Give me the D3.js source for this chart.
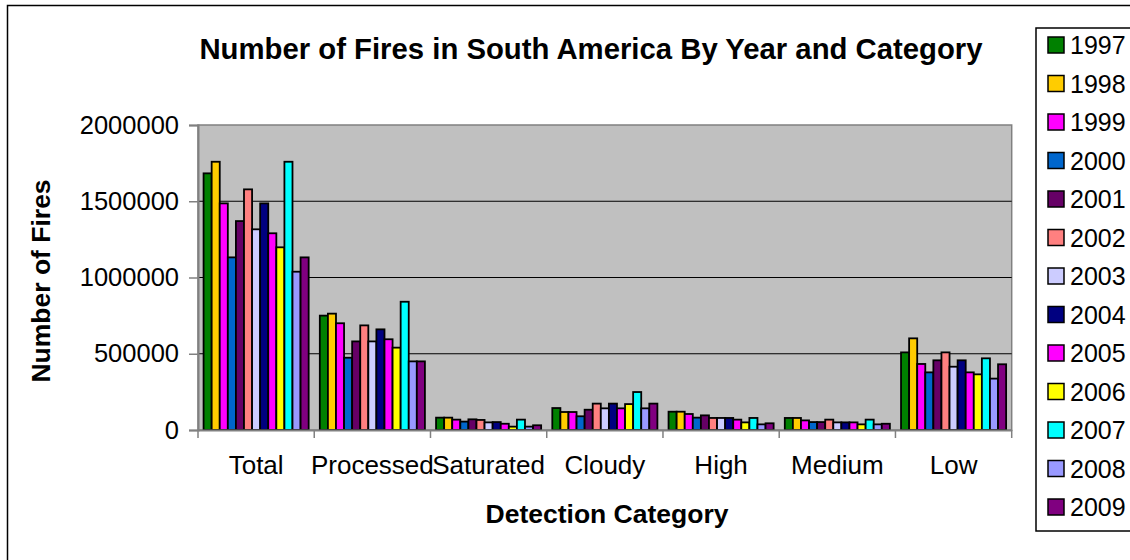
<!DOCTYPE html>
<html>
<head>
<meta charset="utf-8">
<script src="https://cdn.jsdelivr.net/npm/d3@7"></script>
<style>
  body { margin: 0; background: #fff; overflow: hidden; }
  svg { display: block; font-family: "Liberation Sans", Arial, sans-serif; }
</style>
</head>
<body>
<div id="chart"></div>
<script>
// categories and years
const categories = ["Total", "Processed", "Saturated", "Cloudy", "High", "Medium", "Low"];
const years = ["1997", "1998", "1999", "2000", "2001", "2002", "2003", "2004", "2005", "2006", "2007", "2008", "2009"];
const colors = ["#008000", "#FFCC00", "#FF00FF", "#0066CC", "#660066", "#FF8080", "#CCCCFF",
  "#000080", "#FF00FF", "#FFFF00", "#00FFFF", "#9999FF", "#800080"];
const yTicks = [0, 500000, 1000000, 1500000, 2000000];

// one array per category, values in year order
const total = [1683000, 1759000, 1486000, 1132000, 1370000, 1578000, 1316000, 1486000, 1290000, 1198000, 1759000, 1038000, 1132000];
const processed = [750000, 763000, 700000, 474000, 581000, 686000, 581000, 660000, 595000, 540000, 841000, 450000, 450000];
const saturated = [81000, 81000, 68000, 55000, 70000, 66000, 50000, 52000, 41000, 22000, 68000, 22000, 31000];
const cloudy = [144000, 118000, 118000, 90000, 133000, 173000, 142000, 173000, 142000, 170000, 249000, 142000, 173000];
const high = [120000, 120000, 105000, 81000, 96000, 79000, 79000, 79000, 68000, 50000, 79000, 37000, 44000];
const medium = [79000, 79000, 63000, 52000, 52000, 68000, 50000, 50000, 50000, 37000, 68000, 37000, 41000];
const low = [509000, 601000, 433000, 378000, 457000, 509000, 415000, 457000, 378000, 365000, 470000, 337000, 431000];
const series = [total, processed, saturated, cloudy, high, medium, low];

const w = 1130;
const h = 560;
const plot = { left: 198, right: 1011.7, top: 125, bottom: 430 };

const svg = d3.select("#chart").
append("svg").
attr("width", w).
attr("height", h);

// outer chart frame (runs off the right and bottom edges)
svg.append("rect").
attr("x", 7.5).
attr("y", 5.5).
attr("width", w + 20).
attr("height", h + 20).
attr("fill", "#fff").
attr("stroke", "#000").
attr("stroke-width", 1.5);

const x0 = d3.scaleBand().
domain(categories).
range([plot.left, plot.right]);

const x1 = d3.scaleBand().
domain(years).
range([0, x0.bandwidth()]).
paddingOuter(0.69);

const y = d3.scaleLinear().
domain([0, 2000000]).
range([plot.bottom, plot.top]);

// grey plot area
svg.append("rect").
attr("x", plot.left).
attr("y", plot.top).
attr("width", plot.right - plot.left).
attr("height", plot.bottom - plot.top).
attr("fill", "#C0C0C0").
attr("stroke", "#808080").
attr("stroke-width", 1.5);

// gridlines
svg.append("g").
selectAll("line").
data(yTicks.slice(1, -1)).
enter().
append("line").
attr("x1", plot.left).
attr("x2", plot.right).
attr("y1", d => y(d)).
attr("y2", d => y(d)).
attr("stroke", "#000").
attr("stroke-width", 1);

// bars
const groups = svg.append("g").
selectAll("g").
data(categories).
enter().
append("g").
attr("transform", d => "translate(" + x0(d) + ",0)");

groups.selectAll("rect").
data((d, i) => series[i].map((v, j) => ({ year: years[j], value: v, color: colors[j] }))).
enter().
append("rect").
attr("x", d => x1(d.year)).
attr("y", d => y(d.value)).
attr("width", x1.bandwidth()).
attr("height", d => y(0) - y(d.value)).
attr("fill", d => d.color).
attr("stroke", "#000").
attr("stroke-width", 1.8);

// y axis
const yAxis = d3.axisLeft(y).
tickValues(yTicks).
tickSize(9).
tickPadding(10).
tickFormat(d3.format("d"));

const gy = svg.append("g").
attr("transform", "translate(" + plot.left + ",0)").
call(yAxis);

// x axis, ticks sit on the category boundaries
const xAxis = d3.axisBottom(x0).
tickSize(0).
tickPadding(26);

const gx = svg.append("g").
attr("transform", "translate(0," + plot.bottom + ")").
call(xAxis);

gx.selectAll(".tick").
append("line").
attr("x1", -x0.bandwidth() / 2).
attr("x2", -x0.bandwidth() / 2).
attr("y2", 8).
attr("stroke", "#808080").
attr("stroke-width", 1.5);

gx.append("line").
attr("x1", plot.right).
attr("x2", plot.right).
attr("y2", 8).
attr("stroke", "#808080").
attr("stroke-width", 1.5);

[gx, gy].forEach(g => {
  g.select(".domain").attr("stroke", "#808080").attr("stroke-width", 2);
  g.selectAll(".tick line").attr("stroke", "#808080").attr("stroke-width", 1.5);
  g.selectAll("text").
  attr("fill", "#000").
  attr("font-family", "Liberation Sans, Arial, sans-serif");
});
gy.selectAll("text").attr("font-size", 25.5);
gx.selectAll("text").attr("font-size", 26);

// titles
svg.append("text").
attr("x", 591).
attr("y", 59).
attr("text-anchor", "middle").
attr("font-size", 29.3).
attr("font-weight", "bold").
text("Number of Fires in South America By Year and Category");

svg.append("text").
attr("transform", "translate(50,281) rotate(-90)").
attr("text-anchor", "middle").
attr("font-size", 26.5).
attr("font-weight", "bold").
text("Number of Fires");

svg.append("text").
attr("x", 607).
attr("y", 523).
attr("text-anchor", "middle").
attr("font-size", 26.5).
attr("font-weight", "bold").
text("Detection Category");

// legend, its right side runs past the window edge
const legend = svg.append("g");

legend.append("rect").
attr("x", 1036).
attr("y", 28).
attr("width", 200).
attr("height", 503).
attr("fill", "#fff").
attr("stroke", "#000").
attr("stroke-width", 1.5);

const ly = d3.scalePoint().
domain(years).
range([45, 507]);

const items = legend.selectAll(".item").
data(years).
enter().
append("g").
attr("class", "item").
attr("transform", d => "translate(1048," + ly(d) + ")");

items.append("rect").
attr("x", 0).
attr("y", -8).
attr("width", 16).
attr("height", 16).
attr("fill", (d, i) => colors[i]).
attr("stroke", "#000").
attr("stroke-width", 1.5);

items.append("text").
attr("x", 22).
attr("y", 9).
attr("font-size", 25).
text(d => d);
</script>
</body>
</html>
